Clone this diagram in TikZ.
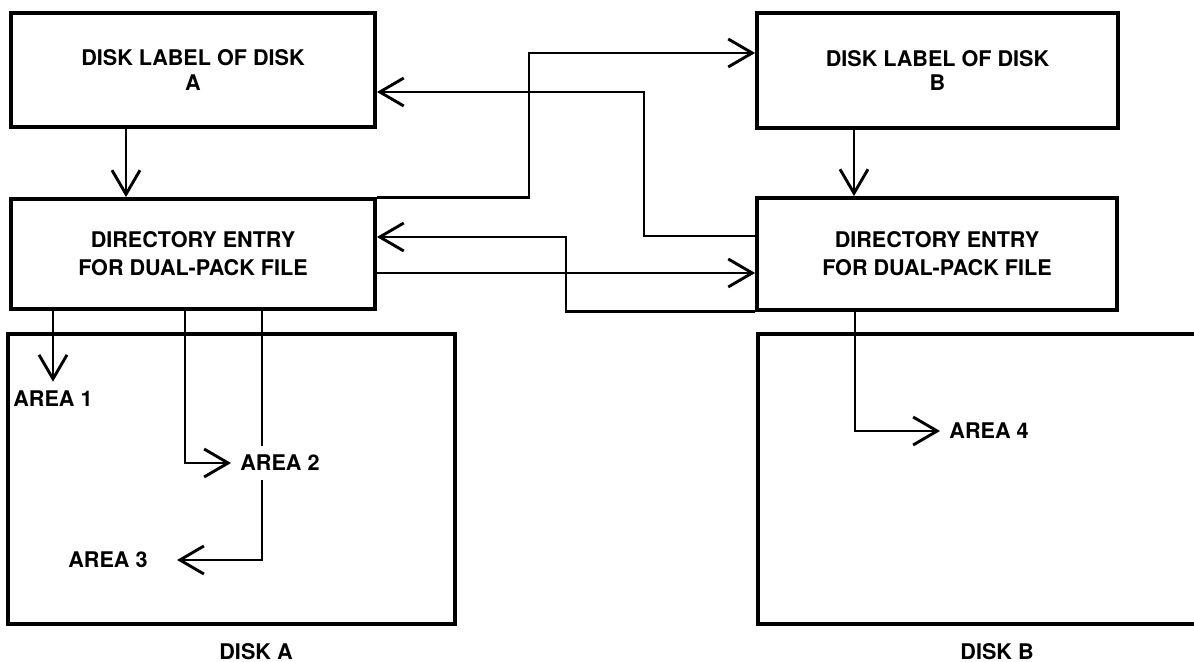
\documentclass[tikz,border=0pt]{standalone}
\usepackage{fontspec}
\setmainfont{TeX Gyre Heros}
\usetikzlibrary{arrows.meta}
\begin{document}
\begin{tikzpicture}[x=0.5pt,y=-0.5pt,
  txt/.style={font=\fontsize{10.8}{14}\selectfont\bfseries},
  box/.style={txt, draw, line width=1.9pt, rectangle, inner sep=0pt, align=center},
  lbl/.style={txt, inner sep=4.5pt},
  conn/.style={line width=1.45pt},
  arr/.style={conn, -{Straight Barb[length=12pt,width=14pt]}}]
\fill[white] (0,0) rectangle (1194,662);
\useasboundingbox (0,0) rectangle (1194,662);

% boxes
\node[box, minimum width=182pt, minimum height=57pt] (LA) at (193,70) {\raisebox{-1.5pt}{\shortstack{DISK LABEL OF DISK\\[1pt]A}}};
\node[box, minimum width=182pt, minimum height=55pt] (DEA) at (193,254) {DIRECTORY ENTRY\\FOR DUAL-PACK FILE};
\node[box, minimum width=180.5pt, minimum height=57.5pt] (LB) at (937.5,70.5) {\raisebox{-1.5pt}{\shortstack{DISK LABEL OF DISK\\[1pt]B}}};
\node[box, minimum width=180pt, minimum height=56pt] (DEB) at (937,254) {DIRECTORY ENTRY\\FOR DUAL-PACK FILE};
\node[box, minimum width=223.5pt, minimum height=145pt] (DA) at (231.5,479) {};
\draw[line width=1.9pt] (1194,334) -- (758,334) -- (758,624) -- (1194,624);

% labels
\node[lbl] (DAL) at (256,652) {DISK A};
\node[lbl] (DBL) at (997,652) {DISK B};
\node[lbl] (a1) at (53,399) {AREA 1};
\node[lbl, anchor=west] (a2) at (231,463) {AREA 2};
\node[lbl, anchor=east] (a3) at (157,560) {AREA 3};
\node[lbl, anchor=west] (a4) at (940,431) {AREA 4};

% helper coordinates
\coordinate (ca) at (126,0);
\coordinate (cb) at (854,0);
\coordinate (v1) at (529,53);
\coordinate (v2) at (644,92);
\coordinate (h2) at (644,236);
\coordinate (v3) at (566,237);
\coordinate (h4) at (0,273);
\coordinate (c1) at (53,0);
\coordinate (c2) at (185,0);
\coordinate (c3) at (262,0);
\coordinate (c4) at (855,0);

% connectors
\draw[arr] (LA.south -| ca) -- (DEA.north -| ca);
\draw[arr] (LB.south -| cb) -- (DEB.north -| cb);
\draw[arr] (DEA.north east) -| (v1) -- (LB.west |- v1);
\draw[arr] (DEB.west |- h2) -- (h2) -- (v2) -- (LA.east |- v2);
\draw[arr] (DEB.south west) -| (v3) -- (DEA.east |- v3);
\draw[arr] (DEA.east |- h4) -- (DEB.west |- h4);

\draw[arr] (DEA.south -| c1) -- (a1.north);
\draw[arr] (DEA.south -| c2) |- (a2.west);
\draw[conn] (DEA.south -| c3) -- (a2.north -| c3);
\draw[arr, shorten >=10pt] (a2.south -| c3) |- (a3.east);
\draw[arr] (DEB.south -| c4) |- (a4.west);
\end{tikzpicture}
\end{document}
